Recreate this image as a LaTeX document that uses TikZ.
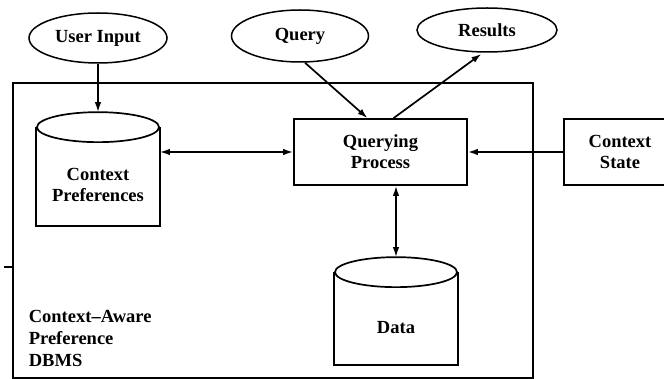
\documentclass[tikz,border=0pt]{standalone}
\usepackage{fontspec}
\setmainfont{Liberation Serif}
\usetikzlibrary{arrows.meta,calc,shapes.geometric}
\begin{document}
\begin{tikzpicture}[x=1pt,y=-1pt,
  line width=1.7pt,
  lbl/.style={font=\bfseries\fontsize{18.5}{21}\selectfont, align=center},
  oval/.style={ellipse, draw, line width=1.5pt, inner sep=0pt, lbl},
  procbox/.style={rectangle, draw, inner sep=0pt, lbl},
  cylbody/.style={rectangle, draw=none, inner sep=0pt},
  arr/.style={-{Latex[length=10pt,width=6.5pt]}},
  dbl/.style={{Latex[length=10pt,width=6.5pt]}-{Latex[length=10pt,width=6.5pt]}}
]
\useasboundingbox (0,0) rectangle (664,379);

% outer frame
\node[rectangle, draw, minimum width=520pt, minimum height=295pt, inner sep=0pt] (frame) at (273,230.5) {};
\coordinate (tick) at (4,267);
\draw[line width=1.3pt] (tick) -- (tick -| frame.west);

% ellipses
\node[oval, minimum width=138pt, minimum height=50pt] (ui) at (98,38) {User Input};
\node[oval, minimum width=137pt, minimum height=52pt] (q) at (300,36) {Query};
\node[oval, minimum width=140pt, minimum height=44pt] (r) at (487,30) {Results};

% boxes
\node[procbox, minimum width=173pt, minimum height=66pt] (qp) at (380.5,152) {Querying\\Process};
\node[procbox, minimum width=112pt, minimum height=66pt] (cs) at (620,152) {Context\\State};

% Context Preferences cylinder
\node[cylbody, minimum width=122pt, minimum height=112pt] (cp) at (98,169) {};
\draw ($(cp.north west)+(0,15)$) -- (cp.south west) -- (cp.south east) -- ($(cp.north east)+(0,15)$);
\draw ($(cp.north)+(0,15)$) ellipse [x radius=61pt, y radius=15pt];
\node[lbl] (cpt) at (98,185) {Context\\Preferences};

% Data cylinder
\node[cylbody, minimum width=122pt, minimum height=106pt] (data) at (396,311) {};
\draw ($(data.north west)+(0,15)$) -- (data.south west) -- (data.south east) -- ($(data.north east)+(0,15)$);
\draw ($(data.north)+(0,15)$) ellipse [x radius=61pt, y radius=15pt];
\node[lbl] (datat) at (396,328) {Data};

% label
\node[font=\bfseries\fontsize{18.5}{22}\selectfont, align=left, anchor=north west, inner sep=0pt] (dbms) at (28,309) {Context--Aware\\Preference\\DBMS};

% connectors
\draw[arr] (ui.south) -- (cp.north);
\draw[dbl] (qp.west -| cp.east) -- (qp.west);
\draw[arr] ([xshift=5pt]q.south) -- ([xshift=-13pt]qp.north);
\draw[arr, shorten >=2pt] ([xshift=13pt]qp.north) -- ([xshift=-4pt]r.south);
\draw[arr] (cs.west) -- (qp.east);
\draw[dbl] (data.north) -- (data.north |- qp.south);
\end{tikzpicture}
\end{document}
